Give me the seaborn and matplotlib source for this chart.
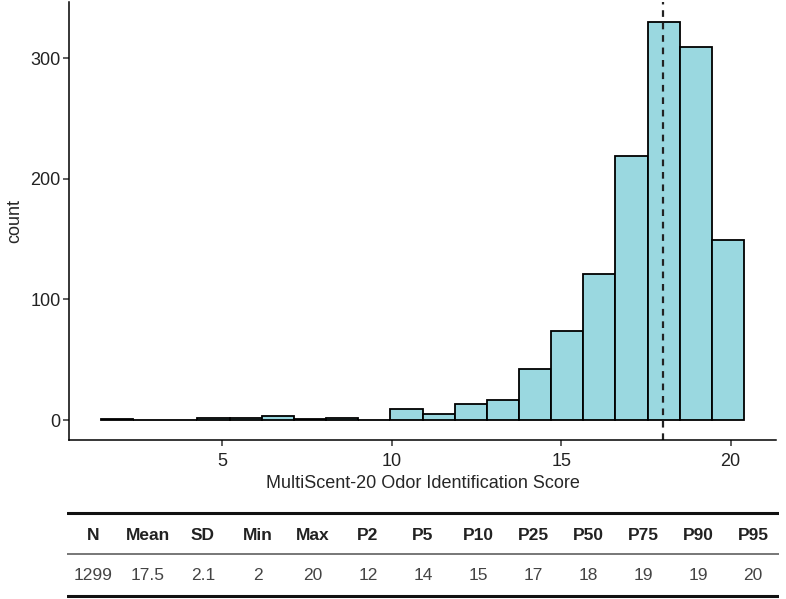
import numpy as np
import pandas as pd
import matplotlib
matplotlib.use("Agg")
import matplotlib.pyplot as plt
import seaborn as sns

# -----------------------------
# Data
# -----------------------------
bin_centers = [1.89, 2.84, 3.79, 4.74, 5.69, 6.64, 7.59, 8.54, 9.49, 10.44,
               11.39, 12.33, 13.28, 14.23, 15.18, 16.13, 17.08, 18.03, 18.98, 19.93]
bin_counts = [1, 0, 0, 2, 2, 3, 1, 2, 0, 9,
              5, 13, 17, 42, 74, 121, 219, 330, 309, 149]
median_score = 18

stat_names = ["N", "Mean", "SD", "Min", "Max", "P2", "P5", "P10",
              "P25", "P50", "P75", "P90", "P95"]
stat_values = ["1299", "17.5", "2.1", "2", "20", "12", "14", "15",
               "17", "18", "19", "19", "20"]

df = pd.DataFrame({"score": bin_centers, "count": bin_counts})

# -----------------------------
# Plot Settings
# -----------------------------
sns.set_style("ticks")
plt.rcParams["font.family"] = ["Liberation Sans", "DejaVu Sans"]

fig = plt.figure(figsize=(7.86, 5.99), dpi=100)
ax = fig.add_axes([69/786, 159/599, 707/786, 438/599])

sns.histplot(
    data=df,
    x="score",
    weights="count",
    bins=20,
    binrange=(1.415, 20.395),
    color="#9AD8E0",
    edgecolor="black",
    linewidth=1.3,
    alpha=1,
    ax=ax
)

ax.axvline(median_score, color="#222222", linestyle=(0, (3, 2.6)), linewidth=1.6)

ax.set_xlim(0.47, 21.34)
ax.set_ylim(-16.5, 346.5)
ax.set_xticks([5, 10, 15, 20])
ax.set_yticks([0, 100, 200, 300])

for side in ["top", "right"]:
    ax.spines[side].set_visible(False)
for side in ["left", "bottom"]:
    ax.spines[side].set_linewidth(1.1)
    ax.spines[side].set_color("black")

ax.tick_params(axis="both", length=4, width=1.1, color="#333333",
               labelsize=13, labelcolor="#222222")
ax.tick_params(axis="x", pad=5)
ax.tick_params(axis="y", pad=2)

ax.set_xlabel("MultiScent-20 Odor Identification Score", fontsize=13, labelpad=4)
ax.set_ylabel("count", fontsize=13, labelpad=5)

# -----------------------------
# Summary table
# -----------------------------
tab = fig.add_axes([67/786, 0, 712/786, 99/599])
tab.set_xlim(67, 779)
tab.set_ylim(0, 99)
tab.axis("off")

tab.axhline(86, color="#111111", linewidth=2.2)
tab.axhline(45, color="#777777", linewidth=1.4)
tab.axhline(3, color="#111111", linewidth=2.2)

col_x = np.linspace(93, 753, len(stat_names))
for x, name, val in zip(col_x, stat_names, stat_values):
    tab.text(x, 64, name, ha="center", va="center", fontsize=12.5,
             fontweight="bold", color="#222222")
    tab.text(x, 24, val, ha="center", va="center", fontsize=12.5,
             color="#444444")

plt.savefig("out.png", dpi=100)
